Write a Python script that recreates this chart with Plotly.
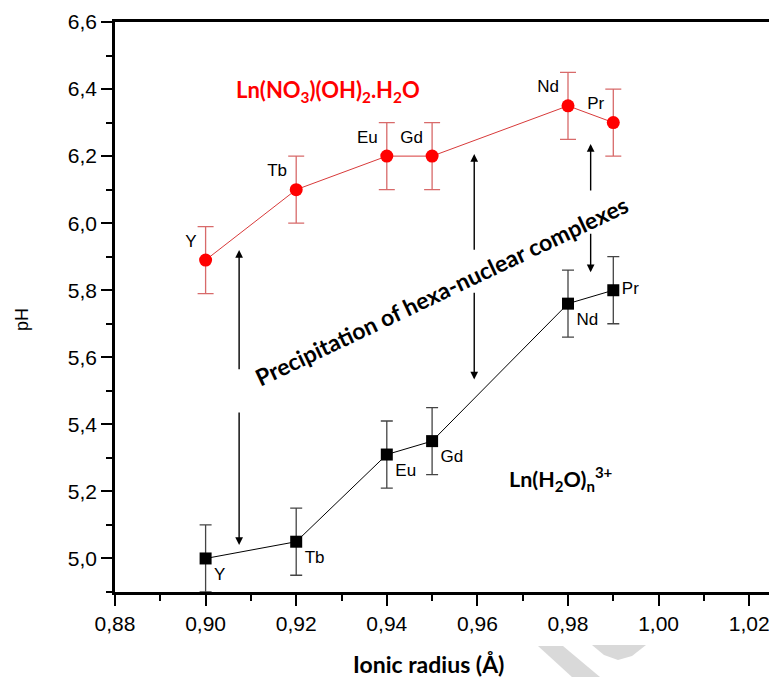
import plotly.graph_objects as go

# ionic radius (Å) of each lanthanide
elements = ["Y", "Tb", "Eu", "Gd", "Nd", "Pr"]
radius = [0.90, 0.92, 0.94, 0.95, 0.98, 0.99]

# pH of precipitation of Ln(NO3)(OH)2.H2O (red) and of Ln(H2O)n3+ (black)
ph_nitrate = [5.89, 6.10, 6.20, 6.20, 6.35, 6.30]
ph_aqua = [5.00, 5.05, 5.31, 5.35, 5.76, 5.80]
ph_err = [0.1, 0.1, 0.1, 0.1, 0.1, 0.1]

# vertical arrows: x, tail y, head y
arrows_x = [0.9074, 0.9074, 0.9593, 0.9593, 0.985, 0.985]
arrows_tail = [5.56, 5.44, 5.916, 5.797, 6.093, 5.973]
arrows_head = [5.92, 5.04, 6.206, 5.534, 6.236, 5.854]

x_ticks = [0.88, 0.90, 0.92, 0.94, 0.96, 0.98, 1.00, 1.02]
y_ticks = [5.0, 5.2, 5.4, 5.6, 5.8, 6.0, 6.2, 6.4, 6.6]

# page body has an 8px margin, so the figure is shrunk to fit the window
OFF = 8
W, H = 777 - OFF, 677 - OFF
ML, MR, MT, MB = 115 - OFF, 0, 22 - OFF, 85

fig = go.Figure()

fig.add_trace(go.Scatter(
    x=radius, y=ph_nitrate, mode="lines+markers+text",
    text=elements, textposition="top left",
    textfont=dict(family="Liberation Sans, Arial", size=17, color="black"),
    line=dict(color="#d83a3a", width=1),
    marker=dict(symbol="circle", size=13, color="#ff0000"),
    error_y=dict(type="data", array=ph_err, color="#d86a6a", thickness=1.3, width=8),
    showlegend=False,
))

fig.add_trace(go.Scatter(
    x=radius, y=ph_aqua, mode="lines+markers+text",
    text=elements,
    textposition=["bottom right", "bottom right", "bottom right", "bottom right", "bottom right", "middle right"],
    textfont=dict(family="Liberation Sans, Arial", size=17, color="black"),
    line=dict(color="black", width=1),
    marker=dict(symbol="square", size=12, color="black"),
    error_y=dict(type="data", array=ph_err, color="#444444", thickness=1.3, width=6),
    showlegend=False,
))


def to_paper(px, py):
    # screenshot pixel -> paper coordinates
    return (px - OFF - ML) / (W - ML - MR), (H - MB - (py - OFF)) / (H - MT - MB)


annotations = []
for x, t, h in zip(arrows_x, arrows_tail, arrows_head):
    annotations.append(dict(
        x=x, y=h, ax=x, ay=t, xref="x", yref="y", axref="x", ayref="y",
        text="", showarrow=True, arrowhead=2, arrowsize=1.1, arrowwidth=1.4,
        arrowcolor="black",
    ))

tx, ty = to_paper(428, 664)
px_, py_ = to_paper(22, 320)
annotations += [
    dict(x=0.927, y=6.394, xref="x", yref="y", showarrow=False,
         text="<b>Ln(NO<sub>3</sub>)(OH)<sub>2</sub>.H<sub>2</sub>O</b>",
         font=dict(family="Lato", size=22, color="#ff0000")),
    dict(x=0.9785, y=5.236, xref="x", yref="y", showarrow=False,
         text="<b>Ln(H<sub>2</sub>O)<sub>n</sub><sup>3+</sup></b>",
         font=dict(family="Lato", size=21.5, color="black")),
    dict(x=0.952, y=5.797, xref="x", yref="y", showarrow=False, textangle=-25.4,
         text="<b>Precipitation of hexa-nuclear complexes</b>",
         font=dict(family="Lato", size=23, color="black")),
    dict(x=tx, y=ty, xref="paper", yref="paper", showarrow=False,
         xanchor="center", yanchor="middle",
         text="<b>Ionic radius (Å)</b>",
         font=dict(family="Lato", size=23, color="black")),
    dict(x=px_, y=py_, xref="paper", yref="paper", showarrow=False, textangle=-90,
         xanchor="center", yanchor="middle",
         text="pH", font=dict(family="Liberation Sans, Arial", size=18, color="black")),
]


def path(points):
    cmds = []
    for cmd, px, py in points:
        xp, yp = to_paper(px, py)
        cmds.append(f"{cmd}{xp:.4f},{yp:.4f}")
    return " ".join(cmds) + " Z"


# faint watermark pieces in the lower right
shapes = [
    dict(type="path", xref="paper", yref="paper", line=dict(width=0),
         fillcolor="#d9d9d9", layer="below",
         path=path([("M", 538, 646), ("L", 563, 646), ("L", 600, 677), ("L", 572, 677)])),
    dict(type="path", xref="paper", yref="paper", line=dict(width=0),
         fillcolor="#d9d9d9", layer="below",
         path=path([("M", 592, 645), ("L", 646, 645), ("L", 632, 656), ("L", 618, 660), ("L", 604, 655)])),
]

fig.update_layout(
    width=W, height=H,
    margin=dict(l=ML, r=MR, t=MT, b=MB),
    paper_bgcolor="white", plot_bgcolor="white",
    annotations=annotations, shapes=shapes,
    font=dict(family="Liberation Sans, Arial", size=21, color="black"),
    xaxis=dict(
        range=[0.88, 0.88 + (W - ML - MR) / 4530], tickmode="array",
        tickvals=x_ticks,
        ticktext=[f"{v:.2f}".replace(".", ",") for v in x_ticks],
        ticks="outside", ticklen=11, tickwidth=2, tickcolor="black",
        minor=dict(tickvals=[0.89, 0.91, 0.93, 0.95, 0.97, 0.99, 1.01],
                   ticks="outside", ticklen=6, tickwidth=2, tickcolor="black"),
        showline=True, linecolor="black", linewidth=2.5, mirror=True,
        showgrid=False, zeroline=False,
    ),
    yaxis=dict(
        range=[4.9, 6.6], tickmode="array",
        tickvals=y_ticks,
        ticktext=[f"{v:.1f}".replace(".", ",") for v in y_ticks],
        ticks="outside", ticklen=11, tickwidth=2, tickcolor="black",
        minor=dict(tickvals=[4.9, 5.1, 5.3, 5.5, 5.7, 5.9, 6.1, 6.3, 6.5],
                   ticks="outside", ticklen=6, tickwidth=2, tickcolor="black"),
        showline=True, linecolor="black", linewidth=2.5,
        showgrid=False, zeroline=False,
    ),
)

fig.write_html("out.html")
